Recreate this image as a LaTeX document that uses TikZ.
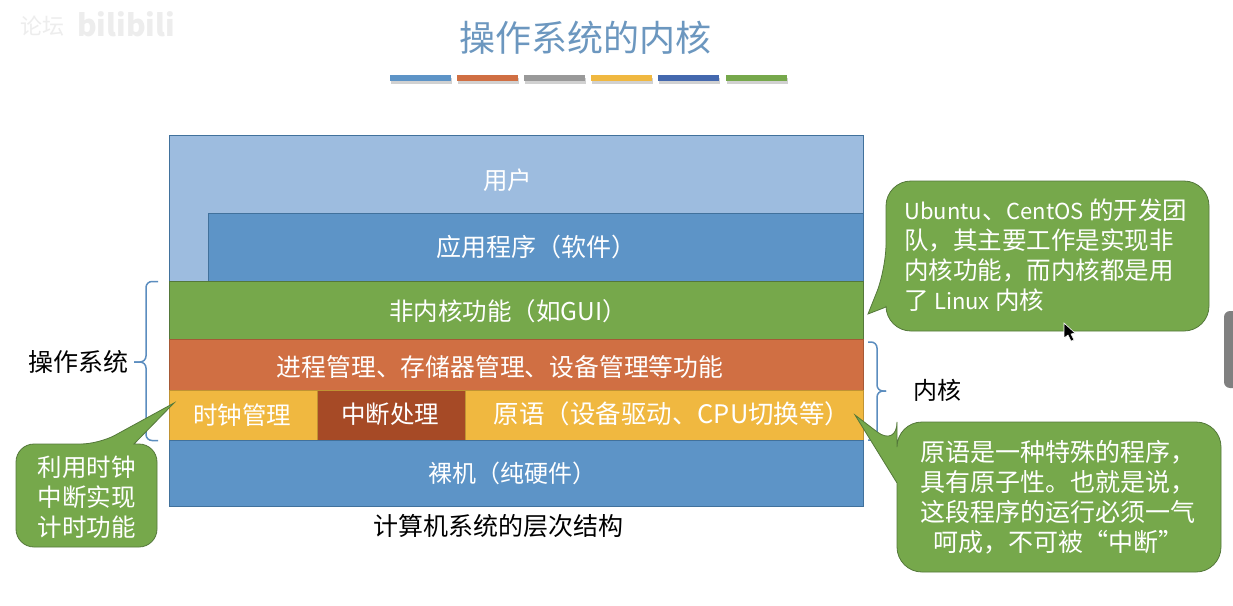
\documentclass[tikz,border=0pt]{standalone}
\usepackage{fontspec}
\setmainfont{Noto Sans CJK SC}
\definecolor{cblue}{HTML}{5D94C7}
\definecolor{clight}{HTML}{9DBCDF}
\definecolor{cgreen}{HTML}{76A84B}
\definecolor{corange}{HTML}{D06F43}
\definecolor{cyellow}{HTML}{F0B840}
\definecolor{cdark}{HTML}{A64A26}
\definecolor{cedge}{HTML}{41719C}
\definecolor{gedge}{HTML}{54783A}
\definecolor{ctitle}{HTML}{6C97BF}
\definecolor{cgray}{HTML}{999999}
\definecolor{cnavy}{HTML}{4468AE}
\definecolor{cbrace}{HTML}{5B8DBF}
\definecolor{cwater}{HTML}{EDEDED}
\definecolor{ctab}{HTML}{808080}
\newcommand{\sz}[2]{\fontsize{#1}{#2}\selectfont}
\newcommand{\lat}[1]{{\fontsize{22}{30}\selectfont #1}}
\tikzset{
  x=1pt,y=-1pt,
  layerbox/.style={draw=#1,line width=0.8pt,anchor=north west,inner sep=0pt,outer sep=0pt},
  layertext/.style={text=white,font=\sz{24.5}{28},inner sep=0pt},
  calloutshape/.style={fill=cgreen,draw=gedge,line width=0.8pt},
  callouttext/.style={text=white,font=\sz{24.5}{30},inner sep=0pt},
  plaintext/.style={text=black,font=\sz{25}{28},inner sep=0pt},
  bracepath/.style={draw=cbrace,line width=1.5pt,rounded corners=6pt},
  titlebar/.style={anchor=north west,minimum width=61pt,minimum height=6pt,inner sep=0pt,outer sep=0pt},
  barshadow/.style={fill=black!18,draw=none},
}
\begin{document}
\begin{tikzpicture}
\useasboundingbox (0,0) rectangle (1233,605);
\fill[white] (0,0) rectangle (1233,605);
% watermark
\node[text=cwater,font=\sz{22}{30},inner sep=0pt] (wmcjk) at (42,26) {论坛};
\node[text=cwater,font=\bfseries\sz{30}{38},inner sep=0pt] (wmbili) at (126,24) {bilibili};
% title
\node[text=ctitle,font=\sz{36}{40},inner sep=0pt] (title) at (585,38) {操作系统的内核};
\foreach \xx/\cc/\nn in {390/cblue/a,457/corange/b,524/cgray/c,591/cyellow/d,658/cnavy/e,726/cgreen/f}{
  \fill[barshadow] (\xx+1,78) rectangle (\xx+62,84);
  \node[titlebar,fill=\cc] (bar\nn) at (\xx,75) {};
}
% layers
\node[layerbox=cedge,fill=clight,minimum width=694pt,minimum height=146pt] (user) at (169,135) {};
\node[layerbox=cedge,fill=cblue,minimum width=655pt,minimum height=68pt] (app) at (208,213) {};
\node[layerbox=gedge,fill=cgreen,minimum width=694pt,minimum height=58pt] (nonkernel) at (169,281) {};
\node[layerbox=corange!80!black,fill=corange,minimum width=694pt,minimum height=51pt] (proc) at (169,339) {};
\node[layerbox=cyellow!80!black,fill=cyellow,minimum width=148pt,minimum height=50pt] (clock) at (169,390) {};
\node[layerbox=cyellow!80!black,fill=cdark,minimum width=148pt,minimum height=50pt] (intr) at (317,390) {};
\node[layerbox=cyellow!80!black,fill=cyellow,minimum width=398pt,minimum height=50pt] (prim) at (465,390) {};
\node[layerbox=cedge,fill=cblue,minimum width=694pt,minimum height=66pt] (bare) at (169,440) {};
% layer labels
\node[layertext] (tuser) at (507.5,180) {用户};
\node[layertext,font=\sz{25}{28}] (tapp) at (536,247) {应用程序（软件）};
\node[layertext] (tnon) at (508,311) {非内核功能（如GUI）};
\node[layertext,font=\sz{24.8}{28}] (tproc) at (500,367) {进程管理、存储器管理、设备管理等功能};
\node[layertext] (tclock) at (242,415) {时钟管理};
\node[layertext] (tintr) at (390,414) {中断处理};
\node[layertext,font=\sz{25.5}{28}] (tprim) at (672,414) {原语（设备驱动、CPU切换等）};
\node[layertext,font=\sz{24}{28}] (tbare) at (512,473) {裸机（纯硬件）};
\node[plaintext] (caption) at (498,526) {计算机系统的层次结构};
% braces
\draw[bracepath] (158,281.5) -- (146,281.5) -- (146,362) -- (134,362);
\draw[bracepath] (134,362) -- (146,362) -- (146,440.5) -- (158,440.5);
\draw[bracepath] (868,342) -- (877,342) -- (877,391) -- (886,391);
\draw[bracepath] (886,391) -- (877,391) -- (877,440) -- (868,440);
\node[plaintext] (os) at (78,362) {操作系统};
\node[plaintext,font=\sz{24}{28}] (kernel) at (937,390) {内核};
% callouts
\draw[calloutshape] (134,444) [rounded corners=18pt] -- (157,444) -- (157,547) -- (16,547) -- (16,444) -- (99,444) [sharp corners] -- (174,403) -- cycle;
\node[callouttext,align=center] (c1) at (86.5,497) {利用时钟\\中断实现\\计时功能};
\draw[calloutshape] (886,307) [rounded corners=25pt] -- (886,331) -- (1209,331) -- (1209,181) -- (886,181) -- (886,269) [sharp corners] -- (868,314) -- cycle;
\node[callouttext,align=left,anchor=north west] (c2) at (904,199) {\lat{Ubuntu}、\lat{CentOS} 的开发团\\队，其主要工作是实现非\\内核功能，而内核都是用\\了 \lat{Linux} 内核};
\draw[calloutshape] (897,483) [rounded corners=25pt] -- (897,572) -- (1221,572) -- (1221,422) -- (897,422) -- (897,447) [sharp corners] -- (855,415) -- cycle;
\node[callouttext,font=\sz{25}{30},align=center] (c3) at (1058,497) {原语是一种特殊的程序，\\具有原子性。也就是说，\\这段程序的运行必须一气\\呵成，不可被“中断”};
% screen furniture
\fill[ctab,rounded corners=6pt] (1233,311) -- (1224,311) -- (1224,388) -- (1233,388);
\draw[fill=black,draw=white,line width=0.6pt] (1064,323) -- (1064,338) -- (1068,335) -- (1071,341) -- (1074,340) -- (1071,334) -- (1075,333) -- cycle;
\end{tikzpicture}
\end{document}
